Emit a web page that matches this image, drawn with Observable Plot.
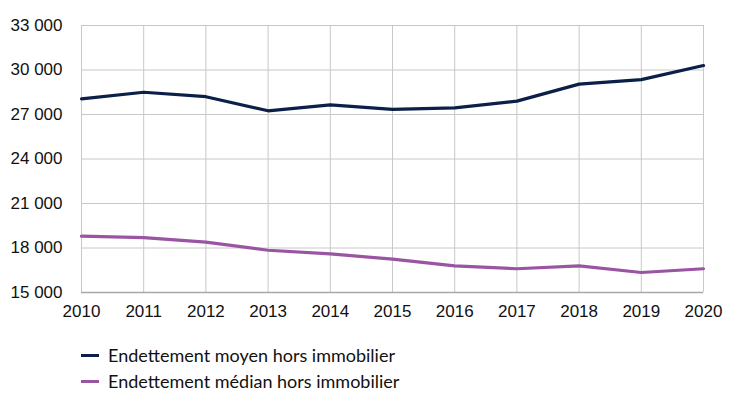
<!DOCTYPE html>
<html>
<head>
<meta charset="utf-8">
<script src="https://cdn.jsdelivr.net/npm/d3@7"></script>
<script src="https://cdn.jsdelivr.net/npm/@observablehq/plot@0.6"></script>
<style>
  body { margin: 0; background: #fff; }
  #chart svg { display: block; }
  .legend { margin-left: 81px; margin-top: 12px; font-family: Lato, "Open Sans", sans-serif; font-size: 18px; color: #111; }
  .legend div { display: flex; align-items: center; height: 26px; }
  .legend span.sw { display: inline-block; width: 18px; height: 3px; margin-right: 9px; }
</style>
</head>
<body>
<div id="chart"></div>
<div class="legend" id="legend"></div>
<script>
const years = [2010, 2011, 2012, 2013, 2014, 2015, 2016, 2017, 2018, 2019, 2020];
const moyen = [28050, 28500, 28200, 27250, 27650, 27350, 27450, 27900, 29050, 29350, 30300];
const median = [18800, 18700, 18400, 17850, 17600, 17250, 16800, 16600, 16800, 16350, 16600];
const seriesNames = ["Endettement moyen hors immobilier", "Endettement médian hors immobilier"];
const seriesColors = ["#0b1f48", "#9a55a2"];
const yTicks = [15000, 18000, 21000, 24000, 27000, 30000, 33000];

const data = [];
years.forEach((y, i) => {
  data.push({year: y, value: moyen[i], series: seriesNames[0]});
  data.push({year: y, value: median[i], series: seriesNames[1]});
});

const fmt = v => d3.format(",")(v).replace(/,/g, " ");

const plot = Plot.plot({
  width: 730,
  height: 330,
  marginLeft: 81,
  marginRight: 27,
  marginTop: 25,
  marginBottom: 38,
  style: { fontFamily: "'Liberation Sans Narrow', 'Liberation Sans', Arial, sans-serif", fontSize: "17px", color: "#111" },
  x: { domain: [2010, 2020], ticks: years, tickFormat: d => String(d), tickSize: 0, tickPadding: 12, label: null },
  y: { domain: [15000, 33000], ticks: yTicks, tickFormat: fmt, tickSize: 0, tickPadding: 19, label: null },
  color: { domain: seriesNames, range: seriesColors },
  marks: [
    Plot.gridX(years, { stroke: "#c8c8c8", strokeOpacity: 1, strokeWidth: 1 }),
    Plot.gridY(yTicks, { stroke: "#c8c8c8", strokeOpacity: 1, strokeWidth: 1 }),
    Plot.ruleY([15000], { stroke: "#a8a8a8", strokeWidth: 1.5 }),
    Plot.line(data, { x: "year", y: "value", z: "series", stroke: "series", strokeWidth: 3.2, strokeLinejoin: "round" })
  ]
});
document.getElementById("chart").appendChild(plot);

const legend = document.getElementById("legend");
seriesNames.forEach((n, i) => {
  const row = document.createElement("div");
  const sw = document.createElement("span");
  sw.className = "sw";
  sw.style.background = seriesColors[i];
  row.appendChild(sw);
  row.appendChild(document.createTextNode(n));
  legend.appendChild(row);
});
</script>
</body>
</html>
